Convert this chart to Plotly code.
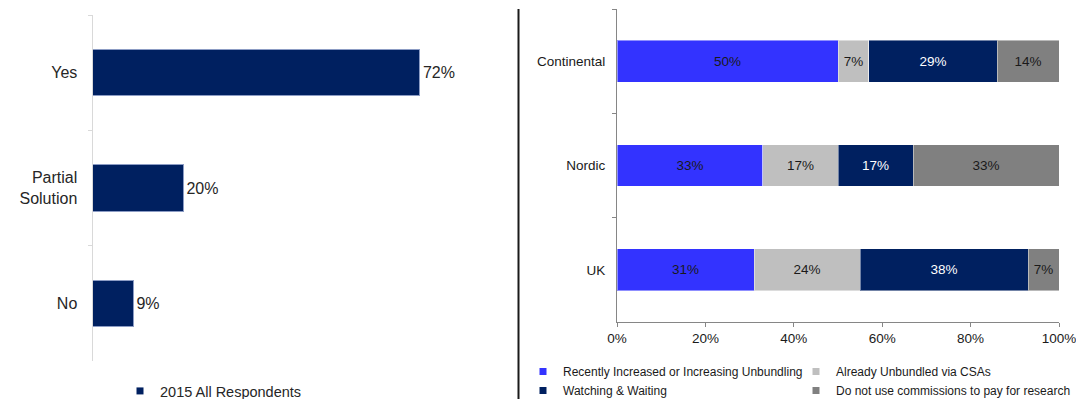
import plotly.graph_objects as go

# Left panel: single-series survey answers
answers = ["Yes", "Partial<br>Solution", "No"]
answer_pct = [72, 20, 9]
answer_series = "2015 All Respondents"

# Right panel: stacked shares by region
regions = ["Continental", "Nordic", "UK"]
stack_names = [
    "Recently Increased or Increasing Unbundling",
    "Already Unbundled via CSAs",
    "Watching & Waiting",
    "Do not use commissions to pay for research",
]
stack_values = [
    [50, 33, 31],
    [7, 17, 24],
    [29, 17, 38],
    [14, 33, 7],
]
x_ticks = [0, 20, 40, 60, 80, 100]
x_tick_labels = ["0%", "20%", "40%", "60%", "80%", "100%"]

NAVY = "#002060"
stack_colors = ["#3333FF", "#BFBFBF", NAVY, "#808080"]
stack_text_colors = ["#1a1a1a", "#1a1a1a", "#ffffff", "#1a1a1a"]
# two legend columns: first and third series on the left, second and fourth on the right
stack_legends = ["legend2", "legend3", "legend2", "legend3"]

FONT = "Liberation Sans, Arial, sans-serif"
W, H = 1076, 399


def px_x(p):
    return p / W


def px_y(p):
    return 1 - p / H


fig = go.Figure()

# left bars
fig.add_trace(go.Bar(
    x=answer_pct, y=answers, orientation="h",
    marker=dict(color=NAVY, line=dict(color="#8c9cc4", width=1)),
    text=[f"{v}%" for v in answer_pct], textposition="outside",
    textfont=dict(size=16, color="#262626", family=FONT),
    cliponaxis=False, showlegend=False,
    xaxis="x", yaxis="y",
))
# legend key for the left series
fig.add_trace(go.Scatter(
    x=[None], y=[None], mode="markers", name=answer_series,
    marker=dict(symbol="square", size=7, color=NAVY),
    xaxis="x", yaxis="y", legend="legend",
))

# right stacked bars
for name, vals, col, tcol in zip(stack_names, stack_values, stack_colors, stack_text_colors):
    fig.add_trace(go.Bar(
        x=vals, y=regions, orientation="h", name=name,
        marker=dict(color=col, line=dict(color="rgba(255,255,255,0.45)", width=1)),
        text=[f"{v}%" for v in vals], textposition="inside",
        insidetextanchor="middle", textangle=0,
        insidetextfont=dict(size=13.5, color=tcol, family=FONT),
        showlegend=False,
        xaxis="x2", yaxis="y2",
    ))
for name, col, lg in zip(stack_names, stack_colors, stack_legends):
    fig.add_trace(go.Scatter(
        x=[None], y=[None], mode="markers", name=name,
        marker=dict(symbol="square", size=7, color=col),
        xaxis="x2", yaxis="y2", legend=lg,
    ))

right_legend_style = dict(
    xref="container", yref="container", xanchor="left", yanchor="top",
    orientation="v", font=dict(size=12, color="#1a1a1a"),
    bgcolor="rgba(0,0,0,0)", borderwidth=0, tracegroupgap=0,
)

fig.update_layout(
    width=W, height=H, autosize=False,
    margin=dict(l=0, r=0, t=0, b=0, autoexpand=False),
    paper_bgcolor="white", plot_bgcolor="white",
    font=dict(family=FONT, color="#262626"),
    barmode="stack", bargap=0.6,
    xaxis=dict(
        domain=[px_x(92.5), px_x(510)], range=[0, 91.8],
        visible=False, fixedrange=True,
    ),
    yaxis=dict(
        domain=[px_y(361), px_y(15)], range=[2.5, -0.5],
        type="category", categoryarray=answers,
        showline=True, linecolor="#d9d9d9", linewidth=1,
        ticks="outside", ticklen=4, tickcolor="#d9d9d9", tickson="boundaries",
        ticklabelstandoff=11,
        tickfont=dict(size=16, color="#262626"),
        showgrid=False, zeroline=False, automargin=False,
    ),
    xaxis2=dict(
        domain=[px_x(617), px_x(1059)], range=[0, 100],
        anchor="y2", tickmode="array", tickvals=x_ticks, ticktext=x_tick_labels,
        ticklabeloverflow="allow",
        showline=True, linecolor="#868686", linewidth=1,
        ticks="outside", ticklen=4, tickcolor="#868686",
        tickfont=dict(size=13.5, color="#1a1a1a"),
        showgrid=False, zeroline=False, automargin=False,
    ),
    yaxis2=dict(
        domain=[px_y(322), px_y(9)], range=[2.5, -0.5], anchor="x2",
        type="category", categoryarray=regions,
        showline=True, linecolor="#868686", linewidth=1,
        ticks="outside", ticklen=4, tickcolor="#868686", tickson="boundaries",
        ticklabelstandoff=8,
        tickfont=dict(size=13.5, color="#1a1a1a"),
        showgrid=False, zeroline=False, automargin=False,
    ),
    legend=dict(
        xref="container", yref="container",
        x=px_x(120), y=px_y(375), xanchor="left", yanchor="top",
        orientation="h", font=dict(size=14.5, color="#262626"),
        bgcolor="rgba(0,0,0,0)", borderwidth=0,
    ),
    legend2=dict(x=px_x(523), y=px_y(357), **right_legend_style),
    legend3=dict(x=px_x(796), y=px_y(357), **right_legend_style),
    shapes=[dict(
        type="line", xref="paper", yref="paper",
        x0=px_x(518.5), x1=px_x(518.5), y0=0, y1=px_y(9),
        line=dict(color="#1a1a1a", width=2),
    )],
)

fig.write_html("out.html")
